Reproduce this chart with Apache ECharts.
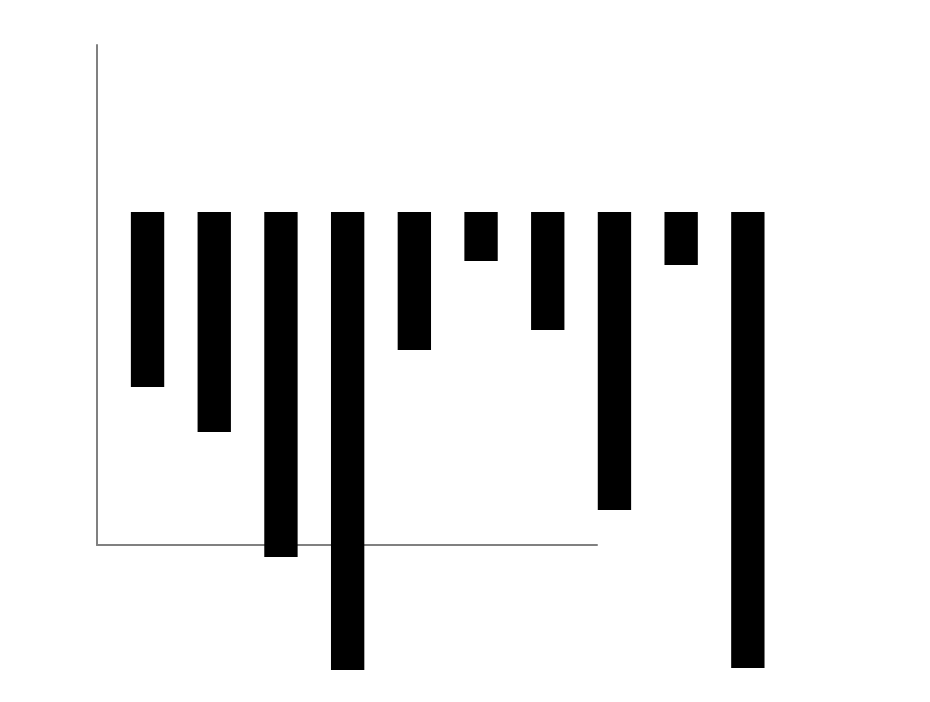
<!DOCTYPE html>
<html lang="en">
<head>
    <meta charset="UTF-8">
    <title>Bars</title>
    <script src="https://cdn.jsdelivr.net/npm/echarts@6/dist/echarts.min.js" type="text/javascript"></script>
    <style>
        html, body { margin: 0; padding: 0; background: #fff; }
        #chart { width: 930px; height: 702px; }
    </style>
</head>
<body>
<div id="chart"></div>
<script>
    // 10 bars hanging down from a common top line
    var categories = ['1', '2', '3', '4', '5', '6', '7', '8', '9', '10'];
    var values = [175, 220, 345, 458, 138, 49, 118, 298, 53, 456];

    var mychart = echarts.init(document.getElementById('chart'));
    var option = {
        backgroundColor: '#ffffff',
        animation: false,
        grid: [
            // frame with the two grey axis lines
            { left: 97, top: 45, width: 500, height: 500 },
            // grid for the bars (kept inside the canvas)
            { left: 114.2, top: 212, width: 667, height: 480 }
        ],
        xAxis: [
            {
                gridIndex: 0,
                type: 'value',
                min: 0,
                max: 1,
                axisLine: { show: true, lineStyle: { color: '#808080', width: 2 } },
                axisTick: { show: false },
                axisLabel: { show: false },
                splitLine: { show: false }
            },
            {
                gridIndex: 1,
                type: 'category',
                data: categories,
                show: false
            }
        ],
        yAxis: [
            {
                gridIndex: 0,
                type: 'value',
                min: 0,
                max: 1,
                axisLine: { show: true, lineStyle: { color: '#808080', width: 2 } },
                axisTick: { show: false },
                axisLabel: { show: false },
                splitLine: { show: false }
            },
            {
                gridIndex: 1,
                type: 'value',
                inverse: true,
                min: 0,
                max: 480,
                show: false
            }
        ],
        series: [
            {
                type: 'bar',
                xAxisIndex: 1,
                yAxisIndex: 1,
                data: values,
                barWidth: '50%',
                itemStyle: { color: '#000000' },
                z: 5
            }
        ]
    };
    mychart.setOption(option);
</script>
</body>
</html>
